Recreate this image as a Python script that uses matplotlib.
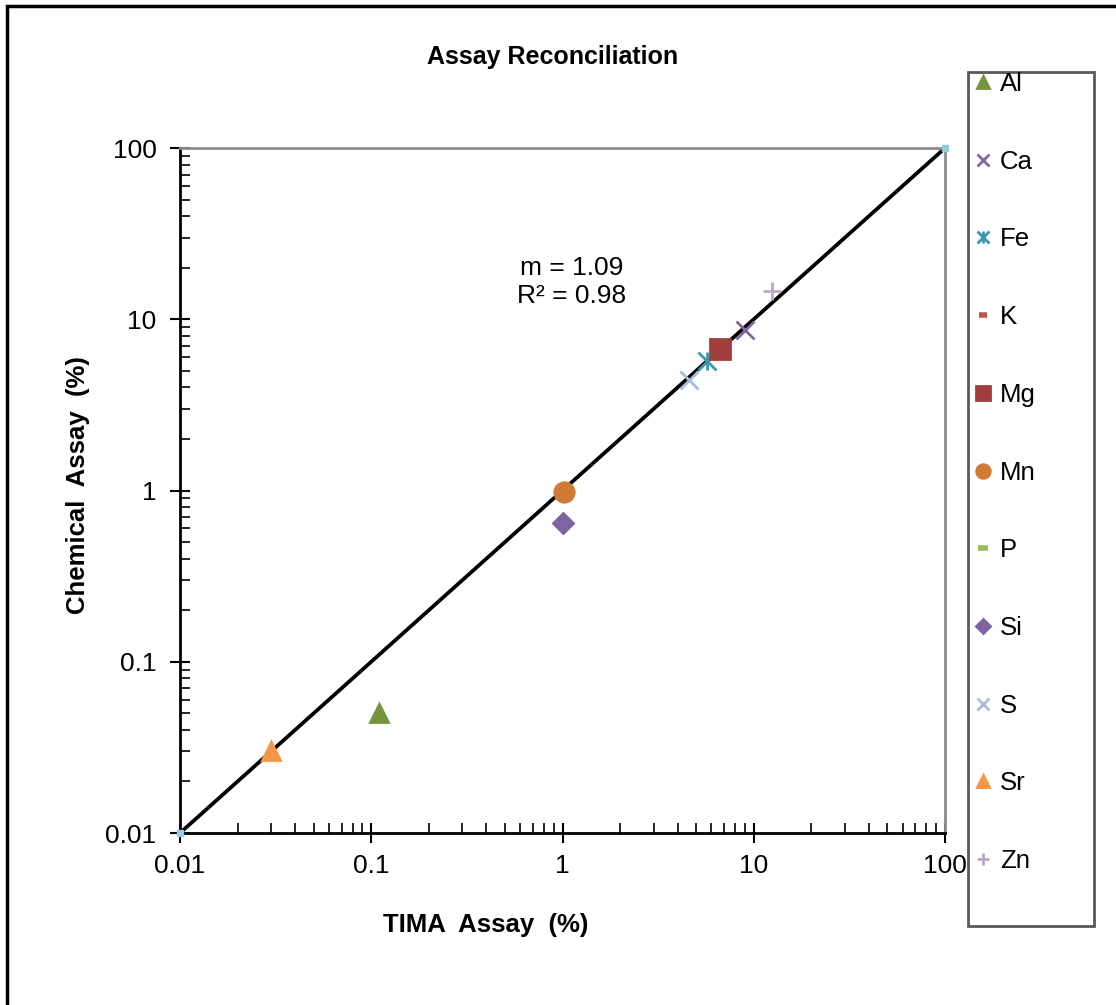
import matplotlib.pyplot as plt
from matplotlib.patches import Rectangle

plt.rcParams["font.family"] = ["Liberation Sans", "DejaVu Sans"]

# element assays (TIMA vs chemical)
elements = ["Al", "Ca", "Fe", "K", "Mg", "Mn", "P", "Si", "S", "Sr", "Zn"]
tima = [[0.11], [9.0], [5.7], [], [6.7], [1.02], [], [1.0], [4.6], [0.03], [12.4]]
chem = [[0.05], [8.6], [5.7], [], [6.7], [0.98], [], [0.65], [4.4], [0.03], [14.6]]
markers = ["^", "x", "x", "_", "s", "o", "_", "D", "x", "^", "+"]
colors = ["#77933C", "#7F6A9E", "#3B97AA", "#C0504D", "#A13E3B", "#D07B36",
          "#9BBB59", "#8064A2", "#A9BCDB", "#F79646", "#B8A9CC"]
sizes = [13, 13, 13, 8, 14, 14, 10, 10, 13, 13, 13]

line_x = [0.01, 100]
line_y = [0.01, 100]

fig = plt.figure(figsize=(11.16, 10.05), dpi=100)
ax = fig.add_axes([180 / 1116, 1 - 833 / 1005, 765 / 1116, 685 / 1005])

ax.plot(line_x, line_y, color="black", lw=2.7, zorder=2)
ax.plot(line_x, line_y, ls="none", marker="s", ms=5, color="#93CDDD",
        clip_on=False, zorder=3)

handles = []
for el, x, y, m, c, s in zip(elements, tima, chem, markers, colors, sizes):
    mew = 4 if m == "_" else 2.0
    h = ax.plot(x, y, ls="none", marker=m, ms=s, mew=mew, color=c, zorder=4)[0]
    if el == "Fe":
        # Excel star: an x with a vertical bar through it
        bar = ax.plot(x, y, ls="none", marker="|", ms=s, mew=mew, color=c, zorder=4)[0]
        h = (h, bar)
    handles.append(h)

ax.set_xscale("log")
ax.set_yscale("log")
ax.set_xlim(0.01, 100)
ax.set_ylim(0.01, 100)
ax.set_xticks([0.01, 0.1, 1, 10, 100], ["0.01", "0.1", "1", "10", "100"])
ax.set_yticks([0.01, 0.1, 1, 10, 100], ["0.01", "0.1", "1", "10", "100"])
ax.tick_params(which="major", direction="inout", length=14, width=1.5, labelsize=19)
ax.tick_params(axis="y", which="major", pad=10)
ax.tick_params(axis="x", which="major", pad=8)
ax.tick_params(which="minor", direction="in", length=7, width=1.2)
for side in ["top", "right"]:
    ax.spines[side].set_color("#8C8C8C")
    ax.spines[side].set_linewidth(2)
for side in ["left", "bottom"]:
    ax.spines[side].set_linewidth(2)

ax.text(1.12, 16.5, "m = 1.09\nR² = 0.98", ha="center", va="center",
        fontsize=19, linespacing=1.2)

fig.text(553 / 1116, 1 - 57 / 1005, "Assay Reconciliation", ha="center", va="center",
         fontsize=18, fontweight="bold")
fig.text(486 / 1116, 1 - 925 / 1005, "TIMA  Assay  (%)", ha="center", va="center",
         fontsize=18.5, fontweight="bold")
fig.text(78 / 1116, 1 - 485 / 1005, "Chemical  Assay  (%)", ha="center", va="center",
         fontsize=18.5, fontweight="bold", rotation=90)

fig.legend(handles, elements, loc="upper left",
           bbox_to_anchor=(974 / 1116, 1 - 72 / 1005),
           frameon=False, fontsize=18.5, labelspacing=2.09, borderpad=0,
           borderaxespad=0, handlelength=0.7, handletextpad=0.3, markerscale=0.7)

fig.patches.append(Rectangle((968 / 1116, 1 - 926 / 1005), 126 / 1116, 854 / 1005,
                             transform=fig.transFigure, fill=False,
                             edgecolor="#595959", lw=2))
fig.patches.append(Rectangle((7 / 1116, -0.1), 1.2, 1.1 - 6 / 1005,
                             transform=fig.transFigure, fill=False,
                             edgecolor="black", lw=2.5))

fig.savefig("out.png", dpi=100)
